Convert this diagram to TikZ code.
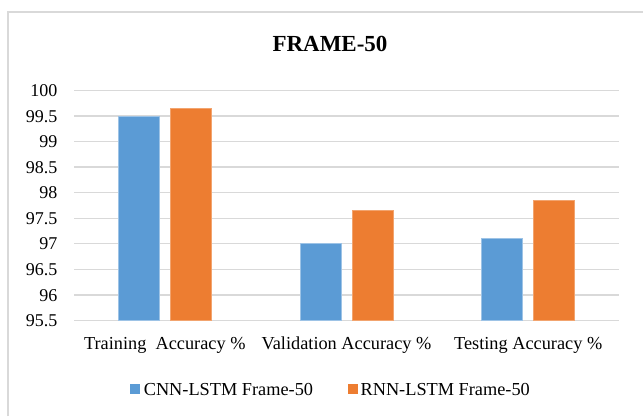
\documentclass[tikz,border=0pt]{standalone}
\usepackage{fontspec}
\setmainfont{Liberation Serif}
\definecolor{cnnblue}{HTML}{5B9BD5}
\definecolor{rnnorange}{HTML}{ED7D31}
\definecolor{gridgray}{HTML}{D9D9D9}
\begin{document}
\begin{tikzpicture}[x=1pt,y=-1pt,
  gridline/.style={draw=gridgray,line width=1.3pt},
  framebox/.style={draw=gridgray,line width=1.5pt},
  cnnbar/.style={fill=cnnblue,draw=cnnblue!60!white,line width=0.6pt},
  rnnbar/.style={fill=rnnorange,draw=rnnorange!70!white,line width=0.6pt},
  ticklabel/.style={anchor=base east,inner sep=0pt,font=\fontsize{18}{20}\selectfont},
  catlabel/.style={anchor=base,inner sep=0pt,font=\fontsize{18.3}{20}\selectfont},
  legtext/.style={anchor=base west,inner sep=0pt,font=\fontsize{18.3}{20}\selectfont},
  titlelabel/.style={anchor=base,inner sep=0pt,font=\bfseries\fontsize{23}{26}\selectfont}]
\useasboundingbox (0,0) rectangle (643,416);
\fill[white] (0,0) rectangle (643,416);
% outer frame (top and left edges visible)
\draw[framebox] (8,416) -- (8,12) -- (643,12);
% title
\node[titlelabel] (title) at (330,51.7) {FRAME-50};
% gridlines and tick labels
\foreach \v [count=\i] in {95.5,96,96.5,97,97.5,98,98.5,99,99.5,100}{
  \pgfmathsetmacro{\yy}{320.5-(\v-95.5)*51.15}
  \draw[gridline] (74,\yy) -- (619,\yy);
  \pgfmathsetmacro{\yb}{\yy+6.2}
  \node[ticklabel] (tick\i) at (57.5,\yb) {\v};
}
% bars
\foreach \c/\a/\b [count=\k] in {164.8/99.5/99.65, 346.5/97.0/97.65, 528.2/97.1/97.85}{
  \pgfmathsetmacro{\ya}{320.5-(\a-95.5)*51.15}
  \pgfmathsetmacro{\yb}{320.5-(\b-95.5)*51.15}
  \filldraw[cnnbar] (\c-46.5,320.5) rectangle (\c-5.5,\ya);
  \filldraw[rnnbar] (\c+5.5,320.5) rectangle (\c+46.5,\yb);
}
% category labels
\node[catlabel] (cat1) at (164.8,349) {Training\ \ Accuracy \%};
\node[catlabel] (cat2) at (346.5,349) {Validation Accuracy \%};
\node[catlabel] (cat3) at (528.2,349) {Testing Accuracy \%};
% legend
\fill[cnnblue] (130,384) rectangle (140,394);
\node[legtext] (leg1) at (143.6,395) {CNN-LSTM Frame-50};
\fill[rnnorange] (348,384) rectangle (357.5,394);
\node[legtext] (leg2) at (360.4,395) {RNN-LSTM Frame-50};
\end{tikzpicture}
\end{document}
